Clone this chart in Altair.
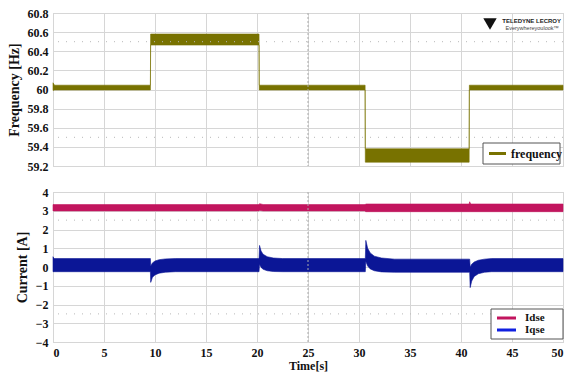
import altair as alt
import pandas as pd

SERIF = "Liberation Serif"

# ---- frequency trace: envelope of the noisy scope trace (Hz) ----
freq_t = [0.0, 0.15, 9.55, 9.57, 20.20, 20.22, 30.60, 30.62, 40.80, 40.82, 50.0]
freq_hi = [60.07, 60.045, 60.045, 60.58, 60.58, 60.045, 60.045, 59.38, 59.38, 60.045, 60.045]
freq_lo = [59.99, 59.995, 59.995, 60.465, 60.465, 59.995, 59.995, 59.24, 59.24, 59.995, 59.995]

# ---- d-axis current envelope (A) ----
idse_t = [0.0, 20.20, 20.25, 20.60, 30.60, 30.65, 40.80, 40.85, 40.95, 50.0]
idse_hi = [3.33, 3.33, 3.38, 3.33, 3.33, 3.36, 3.36, 3.48, 3.36, 3.36]
idse_lo = [2.99, 2.99, 3.02, 2.99, 2.99, 2.95, 2.95, 2.95, 2.95, 2.95]

# ---- q-axis current envelope (A) ----
iqse_t = [0.0, 0.1, 9.55, 9.58, 9.75, 10.0, 10.4, 11.0, 12.0,
          20.20, 20.25, 20.40, 20.60, 21.0, 21.6, 22.5,
          30.62, 30.67, 30.85, 31.1, 31.5, 32.2, 33.5,
          40.85, 40.90, 41.05, 41.3, 41.7, 42.3, 43.0, 50.0]
iqse_hi = [0.55, 0.45, 0.45, 0.05, 0.22, 0.32, 0.39, 0.43, 0.45,
           0.45, 1.15, 0.85, 0.68, 0.55, 0.48, 0.45,
           0.45, 1.42, 1.00, 0.75, 0.58, 0.48, 0.42,
           0.42, 0.00, 0.15, 0.27, 0.36, 0.42, 0.45, 0.45]
iqse_lo = [-0.25, -0.25, -0.25, -0.82, -0.55, -0.42, -0.33, -0.28, -0.25,
           -0.25, 0.15, -0.02, -0.12, -0.20, -0.24, -0.25,
           -0.25, 0.30, 0.05, -0.10, -0.20, -0.26, -0.28,
           -0.28, -1.10, -0.75, -0.50, -0.36, -0.28, -0.25, -0.25]

# axis ticks and graticule
time_ticks = [0, 5, 10, 15, 20, 25, 30, 35, 40, 45, 50]
freq_ticks = [59.2, 59.4, 59.6, 59.8, 60.0, 60.2, 60.4, 60.6, 60.8]
cur_ticks = [-4, -3, -2, -1, 0, 1, 2, 3, 4]
freq_dotted = [60.5, 59.5]
cur_dotted = [2.5, -2.5]
centre_t = [25]

# series names and colours
freq_names = ["frequency"]
freq_colors = ["#787200"]
cur_names = ["Idse", "Iqse"]
cur_fill = ["#c2155e", "#0b1696"]
cur_key = ["#c2155e", "#1020e0"]


def frame(name, t, lo, hi):
    return pd.DataFrame({"series": name, "t": t, "lo": lo, "hi": hi})


freq_df = frame("frequency", freq_t, freq_lo, freq_hi)
cur_df = pd.concat([frame("Idse", idse_t, idse_lo, idse_hi),
                    frame("Iqse", iqse_t, iqse_lo, iqse_hi)])

W = 510
tscale = alt.Scale(domain=[0, 50], nice=False)
fscale = alt.Scale(domain=[59.2, 60.8], nice=False, zero=False)
cscale = alt.Scale(domain=[-4, 4], nice=False, zero=False)

x_hidden = alt.Axis(values=time_ticks, title=None, labels=False)
x_shown = alt.Axis(values=time_ticks, title="Time[s]", format="d",
                   labelFontSize=12, titleFontSize=12, titlePadding=2)
y_freq = alt.Axis(values=freq_ticks, format="~g", title="Frequency [Hz]",
                  labelOverlap=False)
y_cur = alt.Axis(values=cur_ticks, format="d", title="Current [A]",
                 labelOverlap=False)

one_row = pd.DataFrame({"a": [1]})


def graticule(hvals, yscale, xaxis, yaxis):
    h = alt.Chart(pd.DataFrame({"v": hvals})).mark_rule(
        color="#b8b8b8", strokeDash=[1, 7], strokeWidth=1
    ).encode(y=alt.Y("v:Q", scale=yscale, axis=yaxis))
    v = alt.Chart(pd.DataFrame({"c": centre_t})).mark_rule(
        color="#aaaaaa", strokeDash=[2, 2], strokeWidth=1
    ).encode(x=alt.X("c:Q", scale=tscale, axis=xaxis))
    return h + v


def band(df, yscale, xaxis, yaxis, names, fills):
    return alt.Chart(df).mark_area(strokeWidth=0.6, opacity=1).encode(
        x=alt.X("t:Q", scale=tscale, axis=xaxis),
        y=alt.Y("lo:Q", scale=yscale, axis=yaxis),
        y2="hi:Q",
        detail="series:N",
        fill=alt.Fill("series:N", scale=alt.Scale(domain=names, range=fills), legend=None),
        stroke=alt.Stroke("series:N", scale=alt.Scale(domain=names, range=fills), legend=None),
    )


def key_box(x0, y0, w, names, colors, row_h, sw_len, gap, fsize):
    """Boxed key in the lower-right corner of a panel (pixel placement)."""
    h = 6 + row_h * len(names)
    parts = [alt.Chart(one_row).mark_rect(
        fill="white", stroke="#555555", strokeWidth=1
    ).encode(x=alt.value(x0), x2=alt.value(x0 + w),
             y=alt.value(y0), y2=alt.value(y0 + h))]
    for i, (name, col) in enumerate(zip(names, colors)):
        yy = y0 + 3 + row_h * i + row_h / 2
        sw0 = x0 + 6
        sw1 = sw0 + sw_len
        parts.append(alt.Chart(one_row).mark_rule(color=col, strokeWidth=3).encode(
            x=alt.value(sw0), x2=alt.value(sw1), y=alt.value(yy)))
        parts.append(alt.Chart(one_row).mark_text(
            text=name, font=SERIF, fontWeight="bold", fontSize=fsize,
            color="#111111", align="left", baseline="middle"
        ).encode(x=alt.value(sw1 + gap), y=alt.value(yy)))
    return alt.layer(*parts)


# ---- top panel: frequency ----
freq_band = band(freq_df, fscale, x_hidden, y_freq, freq_names, freq_colors)

logo_mark = alt.Chart(one_row).mark_point(
    shape="triangle-down", filled=True, color="#111111", size=180, opacity=1
).encode(x=alt.value(437), y=alt.value(11))
logo_top = alt.Chart(one_row).mark_text(
    text="TELEDYNE LECROY", font="Liberation Sans",
    fontSize=6, fontWeight="bold", color="#222222", align="right", baseline="middle"
).encode(x=alt.value(508), y=alt.value(8))
logo_sub = alt.Chart(one_row).mark_text(
    text="Everywhereyoulook\u2122", font="Liberation Sans",
    fontSize=5.5, color="#444444", align="right", baseline="middle"
).encode(x=alt.value(506), y=alt.value(15))

top = alt.layer(
    freq_band, graticule(freq_dotted, fscale, x_hidden, y_freq),
    logo_mark, logo_top, logo_sub,
    key_box(430, 130, 77, freq_names, freq_colors, 15, 17, 5, 12),
).properties(width=W, height=153)

# ---- bottom panel: d/q currents ----
cur_band = band(cur_df, cscale, x_shown, y_cur, cur_names, cur_fill)

bottom = alt.layer(
    cur_band, graticule(cur_dotted, cscale, x_shown, y_cur),
    key_box(438, 117, 72, cur_names, cur_key, 12, 19, 9, 11),
).properties(width=W, height=150)

chart = alt.vconcat(top, bottom, spacing=12).resolve_scale(
    fill="independent", stroke="independent"
).properties(
    padding={"left": 6, "top": 6, "right": 0, "bottom": 0}
).configure_view(
    stroke="#c4c4c4", strokeWidth=1
).configure_axis(
    grid=True, gridColor="#d6d6d6", gridWidth=1,
    domain=False, ticks=False, labelPadding=5,
    labelFont=SERIF, labelFontWeight="bold", labelFontSize=12, labelColor="#111111",
    titleFont=SERIF, titleFontWeight="bold", titleFontSize=14, titleColor="#111111",
    titlePadding=6,
)

chart.save("out.html", embed_options={"renderer": "svg", "actions": False})
